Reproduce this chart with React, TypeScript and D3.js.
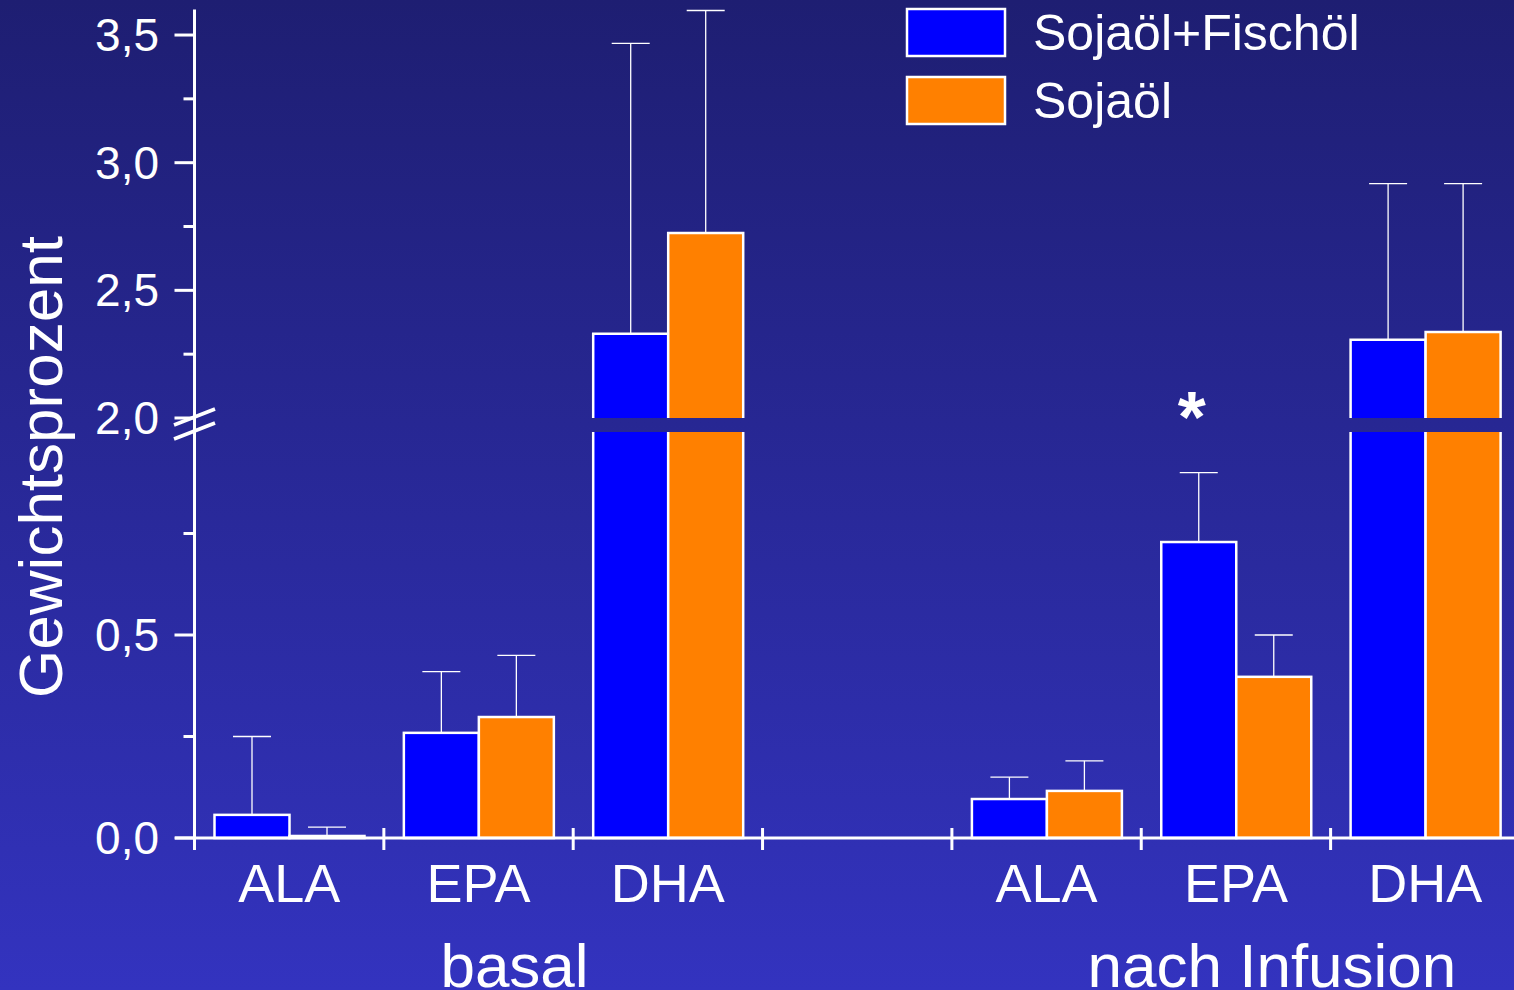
import React from 'react';
import * as d3 from 'd3';

const W = 1514;
const H = 990;

// slots on the x axis (one empty slot between the two groups)
const slots = ['basal-ALA', 'basal-EPA', 'basal-DHA', 'gap', 'inf-ALA', 'inf-EPA', 'inf-DHA'];
const slotLabels = ['ALA', 'EPA', 'DHA', '', 'ALA', 'EPA', 'DHA'];
const groups = [
  { name: 'basal', from: 'basal-ALA', to: 'basal-DHA' },
  { name: 'nach Infusion', from: 'inf-ALA', to: 'inf-DHA' },
];

const series = ['Sojaöl+Fischöl', 'Sojaöl'];
const colors = ['#0000ff', '#ff8000'];

// means and SD (Gewichtsprozent), null = empty slot
const fischMean = [0.057, 0.259, 2.33, null, 0.096, 0.729, 2.306];
const fischSD = [0.193, 0.151, 1.137, null, 0.054, 0.171, 0.612];
const sojaMean = [0.005, 0.298, 2.725, null, 0.116, 0.397, 2.337];
const sojaSD = [0.022, 0.152, 0.871, null, 0.074, 0.103, 0.581];

const lowTicks = [0, 0.25, 0.5, 0.75];
const highTicks = [2.0, 2.25, 2.5, 2.75, 3.0, 3.25, 3.5];
const labelledTicks = [0, 0.5, 2.0, 2.5, 3.0, 3.5];

const significant = ['inf-EPA'];

const FONT = '"Liberation Sans", Arial, sans-serif';

const fmt = d3.formatLocale({ decimal: ',', thousands: '.', grouping: [3], currency: ['', '€'] }).format('.1f');

export default function App() {
  const x = d3.scaleBand().domain(slots).range([194.5, 194.5 + 7 * 189.35]);
  const inner = d3.scaleBand().domain(series).range([20, 170]);

  // broken y axis: two linear pieces
  const yLow = d3.scaleLinear().domain([0, 1]).range([838, 432]);
  const yHigh = d3.scaleLinear().domain([2, 3.6]).range([418, 9.5]);
  const y = (v: number) => (v <= 1 ? yLow(v) : yHigh(v));

  const axisX = x.range()[0];
  const baseY = yLow(0);

  const data = series.map((s, si) => {
    const means = si === 0 ? fischMean : sojaMean;
    const sds = si === 0 ? fischSD : sojaSD;
    return slots
      .map((slot, i) => ({ slot, series: s, color: colors[si], mean: means[i], sd: sds[i] }))
      .filter((d) => d.mean !== null);
  }).flat() as { slot: string; series: string; color: string; mean: number; sd: number }[];

  return (
    <svg width={W} height={H} style={{ position: 'absolute', left: 0, top: 0, display: 'block' }}
      fontFamily={FONT}>
      <defs>
        <linearGradient id="bg" x1="0" y1="0" x2="0" y2="1">
          <stop offset="0%" stopColor="#1e1e72" />
          <stop offset="100%" stopColor="#3333bf" />
        </linearGradient>
      </defs>
      <rect x={0} y={0} width={W} height={H} fill="url(#bg)" />

      {/* bars */}
      {data.map((d, i) => {
        const x0 = (x(d.slot) as number) + (inner(d.series) as number);
        const x1 = x0 + inner.bandwidth();
        const cx = (x0 + x1) / 2;
        const top = y(d.mean);
        const errTop = y(d.mean + d.sd);
        const parts = [];
        if (d.mean > 1) {
          parts.push(
            <g key="lo">
              <rect x={x0} y={yLow(1)} width={x1 - x0} height={baseY - yLow(1)} fill={d.color} />
              <path d={`M${x0},${yLow(1)}V${baseY}H${x1}V${yLow(1)}`} fill="none" stroke="#fff" strokeWidth={2.5} />
              <rect x={x0} y={top} width={x1 - x0} height={yHigh(2) - top} fill={d.color} />
              <path d={`M${x0},${yHigh(2)}V${top}H${x1}V${yHigh(2)}`} fill="none" stroke="#fff" strokeWidth={2.5} />
            </g>
          );
        } else {
          parts.push(
            <rect key="r" x={x0} y={top} width={x1 - x0} height={baseY - top} fill={d.color}
              stroke="#fff" strokeWidth={2.5} />
          );
        }
        return (
          <g key={i}>
            <line x1={cx} x2={cx} y1={top} y2={errTop} stroke="#fff" strokeWidth={1.3} />
            <line x1={cx - 19} x2={cx + 19} y1={errTop} y2={errTop} stroke="#fff" strokeWidth={1.3} />
            {parts}
          </g>
        );
      })}

      {/* significance marker */}
      {significant.map((s) => (
        <text key={s} x={(x(s) as number) + (inner(series[0]) as number) + inner.bandwidth() / 2 - 7}
          y={442} fill="#fff" fontSize={72} fontWeight="bold" textAnchor="middle">*</text>
      ))}

      {/* y axis */}
      <line x1={axisX} x2={axisX} y1={yHigh(3.6)} y2={baseY + 1.5} stroke="#fff" strokeWidth={3} />
      {[...lowTicks.map((t) => ({ t, y: yLow(t) })), ...highTicks.map((t) => ({ t, y: yHigh(t) }))].map(({ t, y: ty }) => {
        const major = labelledTicks.includes(t);
        return (
          <g key={t}>
            <line x1={axisX - (major ? 20 : 11)} x2={axisX} y1={ty} y2={ty} stroke="#fff" strokeWidth={3} />
            {major && (
              <text x={159} y={ty + 16} fill="#fff" fontSize={46} textAnchor="end">{fmt(t)}</text>
            )}
          </g>
        );
      })}
      {/* break marks */}
      <line x1={174} x2={215} y1={425} y2={409} stroke="#fff" strokeWidth={3.5} />
      <line x1={174} x2={215} y1={439} y2={423} stroke="#fff" strokeWidth={3.5} />

      <text transform={`translate(62,467) rotate(-90)`} fill="#fff" fontSize={62} textAnchor="middle">
        Gewichtsprozent
      </text>

      {/* x axis */}
      <line x1={175} x2={W} y1={baseY} y2={baseY} stroke="#fff" strokeWidth={3} />
      {slots.map((s) => (
        <line key={s} x1={x(s)} x2={x(s)} y1={828} y2={850} stroke="#fff" strokeWidth={3} />
      ))}
      {slots.map((s, i) => (
        <text key={s} x={(x(s) as number) + x.bandwidth() / 2} y={902} fill="#fff" fontSize={54}
          textAnchor="middle">{slotLabels[i]}</text>
      ))}
      {groups.map((g) => (
        <text key={g.name} x={((x(g.from) as number) + (x(g.to) as number) + x.bandwidth()) / 2 + 36}
          y={987} fill="#fff" fontSize={62} textAnchor="middle">{g.name}</text>
      ))}

      {/* legend */}
      {series.map((s, i) => (
        <g key={s} transform={`translate(907,${9 + i * 68})`}>
          <rect x={0} y={0} width={98} height={47} fill={colors[i]} stroke="#fff" strokeWidth={2.5} />
          <text x={126} y={41} fill="#fff" fontSize={50}>{s}</text>
        </g>
      ))}
    </svg>
  );
}
